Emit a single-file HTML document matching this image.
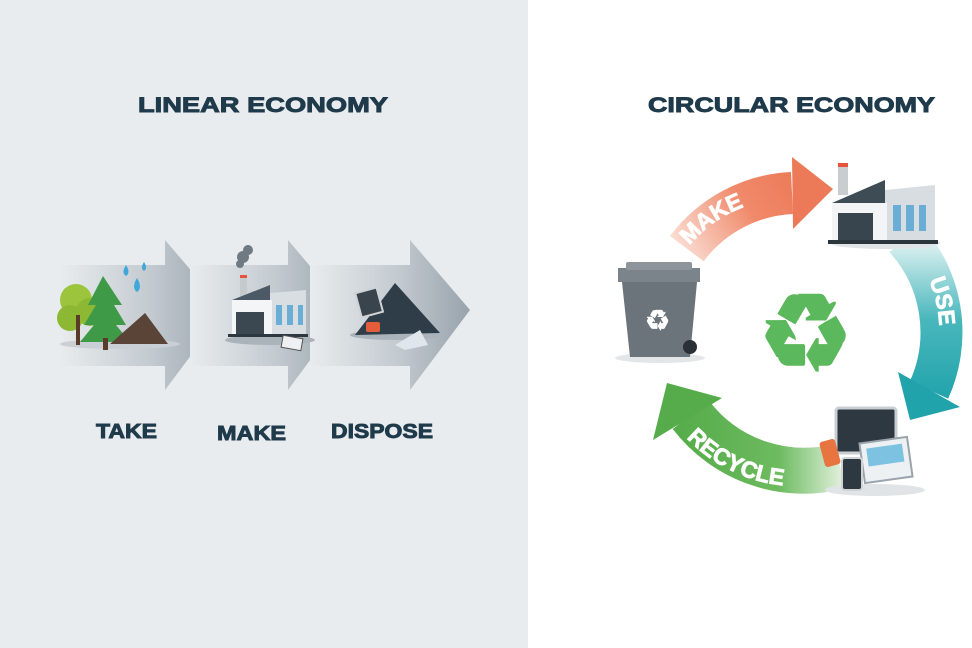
<!DOCTYPE html>
<html><head><meta charset="utf-8"><style>
html,body{margin:0;padding:0;width:972px;height:648px;overflow:hidden;background:#fff}
svg{display:block}
text{font-family:"Liberation Sans",sans-serif;font-weight:bold}
</style></head><body>
<svg width="972" height="648" viewBox="0 0 972 648" xmlns="http://www.w3.org/2000/svg">
<defs>
<linearGradient id="ag" x1="0" x2="1" y1="0" y2="0">
<stop offset="0" stop-color="#e8ecee"/><stop offset="0.55" stop-color="#c3cad0"/><stop offset="1" stop-color="#98a3ac"/>
</linearGradient>
<linearGradient id="gm" gradientUnits="userSpaceOnUse" x1="680" y1="260" x2="800" y2="180">
<stop offset="0" stop-color="#fbe3da"/><stop offset="0.6" stop-color="#f0896a"/><stop offset="1" stop-color="#ec7a58"/>
</linearGradient>
<linearGradient id="gu" gradientUnits="userSpaceOnUse" x1="0" y1="240" x2="0" y2="400">
<stop offset="0" stop-color="#e3f3f3"/><stop offset="0.5" stop-color="#48b7bc"/><stop offset="1" stop-color="#21a3ab"/>
</linearGradient>
<linearGradient id="gr" gradientUnits="userSpaceOnUse" x1="845" y1="0" x2="680" y2="0">
<stop offset="0" stop-color="#e6f2e2"/><stop offset="0.4" stop-color="#6dbb5f"/><stop offset="1" stop-color="#56ac4b"/>
</linearGradient>
<path id="pm" d="M 686.8 248.6 A 132 132 0 0 1 787 198.6"/>
<path id="pu" d="M 929 280 A 132 132 0 0 1 930 380"/>
<path id="pr" d="M 681 432 A 156 156 0 0 0 826 484"/>
</defs>
<rect x="0" y="0" width="528" height="648" fill="#e8ecee"/>

<g fill="#1f3a4a" stroke="#1f3a4a" stroke-width="0.9">
<text x="138" y="112" font-size="21" textLength="250" lengthAdjust="spacingAndGlyphs">LINEAR ECONOMY</text>
<text x="648" y="112" font-size="21" textLength="287" lengthAdjust="spacingAndGlyphs">CIRCULAR ECONOMY</text>
<text x="96" y="438" font-size="20" textLength="61" lengthAdjust="spacingAndGlyphs">TAKE</text>
<text x="217" y="440" font-size="20" textLength="69" lengthAdjust="spacingAndGlyphs">MAKE</text>
<text x="331" y="438" font-size="20" textLength="102" lengthAdjust="spacingAndGlyphs">DISPOSE</text>
</g>

<!-- linear arrows -->
<polygon points="60,265 165,265 165,240 225,310 165,390 165,366 60,366" fill="url(#ag)"/>
<polygon points="190,265 288,265 288,240 347,310 288,390 288,366 190,366" fill="url(#ag)"/>
<polygon points="310,265 410,265 410,240 470,310 410,390 410,366 310,366" fill="url(#ag)"/>

<!-- take illustration -->
<ellipse cx="120" cy="344" rx="60" ry="5" fill="#c9cfd4"/>
<circle cx="76" cy="300" r="16" fill="#9cc43d"/><circle cx="70" cy="318" r="13" fill="#8cb833"/><circle cx="90" cy="312" r="14" fill="#8cb833"/>
<rect x="76" y="315" width="4" height="30" fill="#5a3b2a"/>
<polygon points="103,276 88,305 96,305 84,325 94,325 80,342 130,342 116,325 126,325 114,305 122,305" fill="#3f9a47"/>
<rect x="103" y="338" width="5" height="12" fill="#5a3b2a"/>
<polygon points="110,344 145,313 168,344" fill="#5a4438"/>
<path d="M126 265 q5 8 0 11 q-5 -3 0 -11z" fill="#3fa8d8"/>
<path d="M144 262 q4 6 0 9 q-4 -3 0 -9z" fill="#3fa8d8"/>
<path d="M137 278 q6 10 0 14 q-6 -4 0 -14z" fill="#3fa8d8"/>

<!-- make factory -->
<ellipse cx="270" cy="340" rx="45" ry="5" fill="#aab3ba"/>
<circle cx="243" cy="257" r="6" fill="#6f7a82"/><circle cx="248" cy="250" r="5" fill="#6f7a82"/><circle cx="240" cy="264" r="4" fill="#6f7a82"/>
<rect x="240" y="275" width="7" height="25" fill="#c5cacd"/><rect x="240" y="275" width="7" height="3" fill="#e5533a"/>
<polygon points="232,300 270,285 270,300" fill="#4b5a66"/>
<polygon points="270,293 306,290 306,335 270,335" fill="#d9dee2"/>
<rect x="232" y="300" width="40" height="35" fill="#f4f5f6"/>
<rect x="236" y="312" width="28" height="23" fill="#3b4852"/>
<rect x="276" y="305" width="6" height="20" fill="#6aaed6"/><rect x="287" y="305" width="6" height="20" fill="#6aaed6"/><rect x="298" y="305" width="5" height="20" fill="#6aaed6"/>
<rect x="228" y="334" width="80" height="3" fill="#2d3840"/>
<rect x="282" y="337" width="20" height="12" fill="#eef0f2" stroke="#555" stroke-width="1" transform="rotate(10 292 343)"/>

<!-- dispose pile -->
<ellipse cx="395" cy="335" rx="45" ry="5" fill="#aab3ba"/>
<polygon points="355,335 395,283 440,333" fill="#2f3d48"/>
<rect x="358" y="290" width="22" height="25" fill="#3a444c" stroke="#cfd3d6" stroke-width="2" transform="rotate(-15 369 302)"/>
<rect x="366" y="322" width="14" height="10" fill="#e35d3a" rx="2"/>
<polygon points="395,345 420,330 428,345 405,350" fill="#dfe6ec"/>

<!-- circular arrows -->
<path d="M 686.8 248.6 A 140 140 0 0 1 792 193" fill="none" stroke="url(#gm)" stroke-width="42"/>
<polygon points="792,157 833,189 793,229" fill="#ec7a58"/>
<path d="M 905 238 A 140 140 0 0 1 929 390" fill="none" stroke="url(#gu)" stroke-width="42"/>
<polygon points="898,372 910,420 960,407" fill="#21a3ab"/>
<path d="M 840 466 A 142 142 0 0 1 691 415" fill="none" stroke="url(#gr)" stroke-width="46"/>
<polygon points="653,440 667,383 722,398" fill="#56ac4b"/>

<g fill="#fff" stroke="#fff" stroke-width="0.8">
<text font-size="23"><textPath href="#pm" startOffset="4">MAKE</textPath></text>
<text font-size="23"><textPath href="#pu" startOffset="0">USE</textPath></text>
<text font-size="23"><textPath href="#pr" startOffset="8">RECYCLE</textPath></text>
</g>

<!-- trash can -->
<ellipse cx="660" cy="358" rx="45" ry="5" fill="#e3e6e8"/>
<polygon points="618,268 700,268 700,282 618,282" fill="#7b848b"/>
<rect x="626" y="262" width="66" height="8" rx="2" fill="#8d959b"/>
<polygon points="622,282 697,282 690,357 630,357" fill="#6b747b"/>
<circle cx="690" cy="347" r="7" fill="#2a3035"/>
<text x="645" y="330" font-size="28" fill="#fff" font-family="DejaVu Sans">♻</text>

<!-- factory -->
<ellipse cx="885" cy="243" rx="55" ry="6" fill="#e1e4e6"/>
<rect x="838" y="165" width="10" height="30" fill="#c9cdd0"/><rect x="838" y="163" width="10" height="4" fill="#e5533a"/>
<polygon points="832,203 885,180 885,203" fill="#3e4c56"/>
<polygon points="885,190 935,185 935,240 885,240" fill="#d8dde1"/>
<rect x="832" y="203" width="55" height="38" fill="#f3f4f5"/>
<rect x="838" y="213" width="35" height="28" fill="#39454e"/>
<rect x="893" y="205" width="8" height="26" fill="#6aaed6"/><rect x="906" y="205" width="8" height="26" fill="#6aaed6"/><rect x="919" y="205" width="7" height="26" fill="#6aaed6"/>
<rect x="828" y="240" width="110" height="4" fill="#2b353c"/>

<!-- recycle symbol -->
<text x="758" y="370" font-size="106" fill="#5cb85c" font-family="DejaVu Sans">♻</text>

<!-- devices -->
<ellipse cx="875" cy="490" rx="50" ry="6" fill="#e1e4e6"/>
<rect x="836" y="408" width="60" height="45" rx="3" fill="#2d3840" stroke="#c9ced2" stroke-width="3"/>
<rect x="862" y="440" width="48" height="40" fill="#eef1f3" stroke="#9aa4ac" stroke-width="2" transform="rotate(-8 886 460)"/>
<rect x="868" y="446" width="36" height="18" fill="#7dc2e0" transform="rotate(-8 886 460)"/>
<rect x="842" y="458" width="20" height="32" rx="3" fill="#2d3840" stroke="#d0d4d7" stroke-width="2"/>
<rect x="822" y="440" width="16" height="26" rx="3" fill="#e8743f" transform="rotate(-15 830 453)"/>
</svg>
</body></html>
